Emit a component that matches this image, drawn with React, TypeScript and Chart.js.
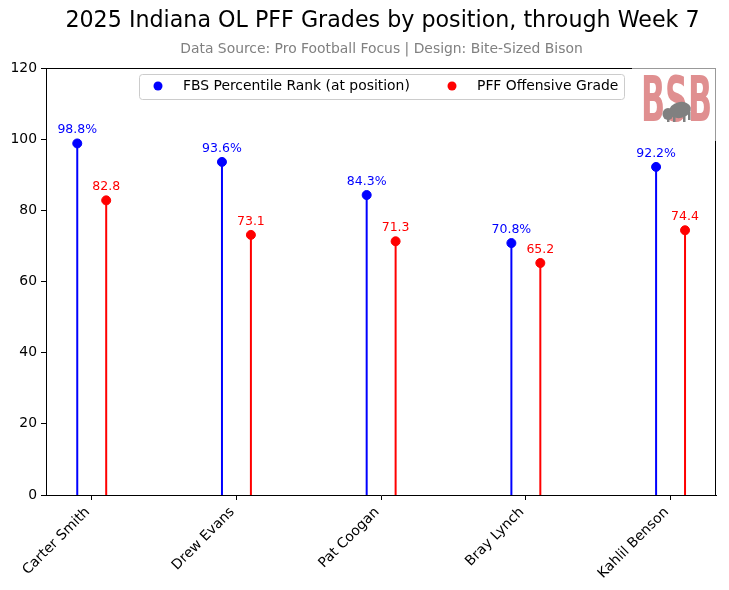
import React, { useEffect, useRef } from "react";
import { Chart, registerables } from "chart.js";

Chart.register(...registerables);

const players = ["Carter Smith", "Drew Evans", "Pat Coogan", "Bray Lynch", "Kahlil Benson"];
const percentileRank = [98.8, 93.6, 84.3, 70.8, 92.2];
const pffGrade = [82.8, 73.1, 71.3, 65.2, 74.4];
const yTicks = [0, 20, 40, 60, 80, 100, 120];
const titleText = "2025 Indiana OL PFF Grades by position, through Week 7";
const subtitleText = "Data Source: Pro Football Focus | Design: Bite-Sized Bison";
const seriesNames = ["FBS Percentile Rank (at position)", "PFF Offensive Grade"];

const FONT = "'DejaVu Sans', sans-serif";
const BLUE = "#0000ff";
const RED = "#ff0000";

const lollipopPlugin = {
  id: "lollipop",
  beforeDatasetsDraw(chart: any) {
    const ctx = chart.ctx;
    const yScale = chart.scales.y;
    chart.data.datasets.forEach((ds: any, di: number) => {
      const meta = chart.getDatasetMeta(di);
      ctx.save();
      ctx.strokeStyle = ds.borderColor;
      ctx.lineWidth = 2;
      meta.data.forEach((pt: any) => {
        ctx.beginPath();
        ctx.moveTo(pt.x, yScale.getPixelForValue(0));
        ctx.lineTo(pt.x, pt.y);
        ctx.stroke();
      });
      ctx.restore();
    });
  },
  afterDatasetsDraw(chart: any) {
    const ctx = chart.ctx;
    chart.data.datasets.forEach((ds: any, di: number) => {
      const meta = chart.getDatasetMeta(di);
      ctx.save();
      ctx.fillStyle = ds.borderColor;
      ctx.font = `12.5px ${FONT}`;
      ctx.textAlign = "center";
      ctx.textBaseline = "bottom";
      meta.data.forEach((pt: any, i: number) => {
        const v = ds.data[i].y;
        const label = di === 0 ? `${v.toFixed(1)}%` : v.toFixed(1);
        ctx.fillText(label, pt.x, pt.y - 7);
      });
      ctx.restore();
    });
  },
  afterDraw(chart: any) {
    const ctx = chart.ctx;
    const a = chart.chartArea;
    ctx.save();
    // spines
    ctx.strokeStyle = "#000";
    ctx.lineWidth = 1;
    ctx.beginPath();
    ctx.moveTo(a.left, a.top + 0.5);
    ctx.lineTo(a.right, a.top + 0.5);
    ctx.moveTo(a.right - 0.5, a.top);
    ctx.lineTo(a.right - 0.5, a.bottom);
    ctx.stroke();

    // title and subtitle
    const cx = chart.width / 2;
    ctx.fillStyle = "#000";
    ctx.font = `22.2px ${FONT}`;
    ctx.textAlign = "center";
    ctx.textBaseline = "middle";
    ctx.fillText(titleText, cx + 18, 21);
    ctx.fillStyle = "#808080";
    ctx.font = `13.9px ${FONT}`;
    ctx.fillText(subtitleText, cx + 17, 49);

    // legend
    const lx = 139, ly = 74, lw = 485, lh = 25;
    ctx.fillStyle = "rgba(255,255,255,0.85)";
    ctx.strokeStyle = "#cccccc";
    ctx.lineWidth = 1;
    ctx.beginPath();
    (ctx as any).roundRect(lx + 0.5, ly + 0.5, lw, lh, 3);
    ctx.fill();
    ctx.stroke();
    const colors = [BLUE, RED];
    const mx = [158, 452];
    const tx = [183, 477];
    ctx.font = `13.9px ${FONT}`;
    ctx.textAlign = "left";
    ctx.textBaseline = "middle";
    for (let i = 0; i < 2; i++) {
      ctx.fillStyle = colors[i];
      ctx.beginPath();
      ctx.arc(mx[i], ly + 12, 4.5, 0, Math.PI * 2);
      ctx.fill();
      ctx.fillStyle = "#000";
      ctx.fillText(seriesNames[i], tx[i], ly + 12.5);
    }

    // logo
    const gx = 632, gy = a.top, gw = a.right - gx, gh = 73;
    ctx.fillStyle = "#fff";
    ctx.fillRect(gx, gy, gw, gh);
    ctx.strokeStyle = "#999";
    ctx.beginPath();
    ctx.moveTo(gx, gy + 0.5);
    ctx.lineTo(a.right, gy + 0.5);
    ctx.moveTo(a.right - 0.5, gy);
    ctx.lineTo(a.right - 0.5, gy + gh);
    ctx.stroke();
    ctx.fillStyle = "#e08f90";
    ctx.font = `bold 62px ${FONT}`;
    ctx.textAlign = "left";
    ctx.textBaseline = "alphabetic";
    const w = ctx.measureText("BSB").width;
    ctx.save();
    ctx.translate(641, 121);
    ctx.scale(71 / w, 1);
    ctx.fillText("BSB", 0, 0);
    ctx.restore();
    // bison silhouette
    ctx.fillStyle = "#808080";
    ctx.beginPath();
    ctx.ellipse(680, 110, 11, 8, -0.2, 0, Math.PI * 2);
    ctx.fill();
    ctx.beginPath();
    ctx.ellipse(668, 114, 5.5, 6, 0, 0, Math.PI * 2);
    ctx.fill();
    ctx.fillRect(667, 117, 2.5, 5);
    ctx.fillRect(673, 115, 2.5, 7);
    ctx.fillRect(683, 114, 2.5, 8);
    ctx.fillRect(688, 112, 2.5, 8);
    ctx.restore();
  },
};

export default function App() {
  const ref = useRef<HTMLCanvasElement>(null);
  useEffect(() => {
    document.body.style.margin = "0";
    const canvas = ref.current!;
    const chart = new Chart(canvas, {
      type: "scatter",
      data: {
        datasets: [
          {
            label: seriesNames[0],
            data: percentileRank.map((v, i) => ({ x: i - 0.1, y: v })),
            borderColor: BLUE,
            backgroundColor: BLUE,
            pointRadius: 4.5,
            pointHoverRadius: 4.5,
          },
          {
            label: seriesNames[1],
            data: pffGrade.map((v, i) => ({ x: i + 0.1, y: v })),
            borderColor: RED,
            backgroundColor: RED,
            pointRadius: 4.5,
            pointHoverRadius: 4.5,
          },
        ],
      },
      options: {
        responsive: false,
        animation: false,
        events: [],
        layout: { padding: { top: 68, right: 13, left: 0, bottom: 0 } },
        plugins: { legend: { display: false }, tooltip: { enabled: false }, title: { display: false } },
        scales: {
          x: {
            type: "linear",
            min: -0.316,
            max: 4.314,
            afterBuildTicks: (axis: any) => {
              axis.ticks = players.map((_, i) => ({ value: i }));
            },
            afterFit: (axis: any) => {
              axis.height = 95;
            },
            ticks: {
              minRotation: 45,
              maxRotation: 45,
              autoSkip: false,
              color: "#000",
              font: { family: FONT, size: 13.9 },
              padding: 4,
              labelOffset: -4,
              callback: (v: any) => players[Math.round(v)] ?? "",
            },
            grid: { drawOnChartArea: false, drawTicks: true, tickLength: 5, color: "#000" },
            border: { display: true, color: "#000", width: 1 },
          },
          y: {
            min: 0,
            max: 120,
            afterBuildTicks: (axis: any) => {
              axis.ticks = yTicks.map((v) => ({ value: v }));
            },
            afterFit: (axis: any) => {
              axis.width = 46;
            },
            ticks: {
              color: "#000",
              font: { family: FONT, size: 13.9 },
              padding: 4,
            },
            grid: { drawOnChartArea: false, drawTicks: true, tickLength: 5, color: "#000" },
            border: { display: true, color: "#000", width: 1 },
          },
        },
      },
      plugins: [lollipopPlugin],
    });
    return () => chart.destroy();
  }, []);
  return <canvas ref={ref} width={729} height={590} style={{ display: "block" }} />;
}
